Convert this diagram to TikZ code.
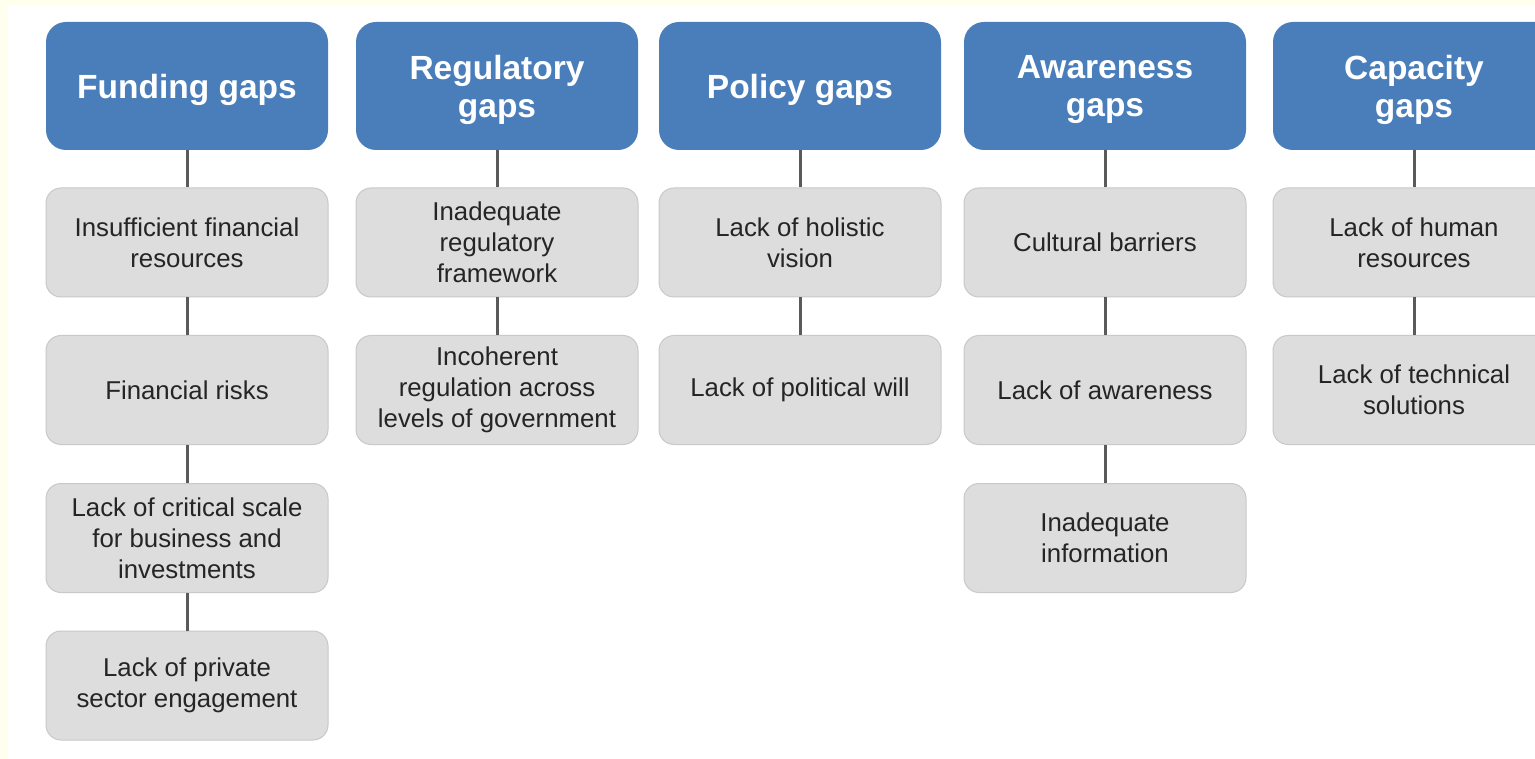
\documentclass[tikz,border=0pt]{standalone}
\usepackage{fontspec}
\setmainfont{Liberation Sans}
\definecolor{hdrblue}{HTML}{4A7EBB}
\definecolor{boxgray}{HTML}{DDDDDD}
\definecolor{boxedge}{HTML}{C9C9C9}
\definecolor{linegray}{HTML}{5A5A5A}
\definecolor{txtgray}{HTML}{252525}
\definecolor{cream}{HTML}{FFFFEE}
\begin{document}
\begin{tikzpicture}[x=1pt,y=-1pt,
  hdr/.style={rectangle, rounded corners=20pt, fill=hdrblue, draw=none,
    minimum width=282pt, minimum height=128pt, inner sep=0pt},
  hdrtext/.style={text=white, align=center, inner sep=0pt, yshift=-4pt,
    font=\bfseries\fontsize{33.5}{38}\selectfont},
  item/.style={rectangle, rounded corners=15pt, fill=boxgray, draw=boxedge, line width=1pt,
    minimum width=282pt, minimum height=109pt, inner sep=0pt,
    text=txtgray, align=center, font=\fontsize{25.8}{31}\selectfont},
  link/.style={draw=linegray, line width=3pt}]
\useasboundingbox (0,0) rectangle (1535,759);
\clip (0,0) rectangle (1535,759);
\fill[cream] (0,0) rectangle (1535,759);
\fill[white] (8,5) rectangle (1535,759);

% column 1
\node[hdr] (h1) at (187,86) {};
\node[hdrtext] (t1) at (h1.center) {Funding gaps};
\node[item] (a1) at (187,242.5) {Insufficient financial\\resources};
\node[item] (a2) at (187,390) {Financial risks};
\node[item] (a3) at (187,538) {Lack of critical scale\\for business and\\investments};
\node[item] (a4) at (187,685.5) {Lack of private\\sector engagement};
% column 2
\node[hdr] (h2) at (497,86) {};
\node[hdrtext] (t2) at (h2.center) {Regulatory\\gaps};
\node[item] (b1) at (497,242.5) {Inadequate\\regulatory\\framework};
\node[item] (b2) at (497,390) {Incoherent\\regulation across\\levels of government};
% column 3
\node[hdr] (h3) at (800,86) {};
\node[hdrtext] (t3) at (h3.center) {Policy gaps};
\node[item] (c1) at (800,242.5) {Lack of holistic\\vision};
\node[item] (c2) at (800,390) {Lack of political will};
% column 4
\node[hdr] (h4) at (1105,86) {};
\node[hdrtext] (t4) at (h4.center) {Awareness\\gaps};
\node[item] (d1) at (1105,242.5) {Cultural barriers};
\node[item] (d2) at (1105,390) {Lack of awareness};
\node[item] (d3) at (1105,538) {Inadequate\\information};
% column 5
\node[hdr] (h5) at (1414,86) {};
\node[hdrtext] (t5) at (h5.center) {Capacity\\gaps};
\node[item] (e1) at (1414,242.5) {Lack of human\\resources};
\node[item] (e2) at (1414,390) {Lack of technical\\solutions};

% connectors
\draw[link] (h1.south) -- (a1.north);
\draw[link] (a1.south) -- (a2.north);
\draw[link] (a2.south) -- (a3.north);
\draw[link] (a3.south) -- (a4.north);
\draw[link] (h2.south) -- (b1.north);
\draw[link] (b1.south) -- (b2.north);
\draw[link] (h3.south) -- (c1.north);
\draw[link] (c1.south) -- (c2.north);
\draw[link] (h4.south) -- (d1.north);
\draw[link] (d1.south) -- (d2.north);
\draw[link] (d2.south) -- (d3.north);
\draw[link] (h5.south) -- (e1.north);
\draw[link] (e1.south) -- (e2.north);
\end{tikzpicture}
\end{document}
